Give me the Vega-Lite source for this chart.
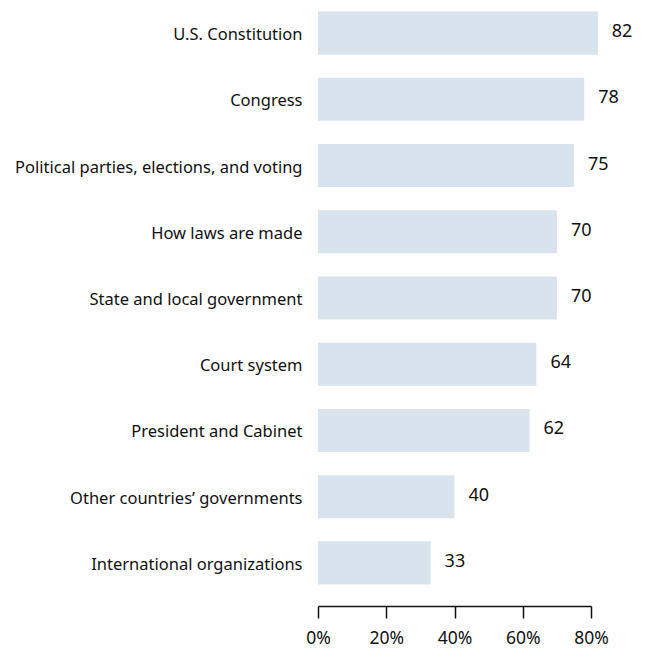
{
  "$schema": "https://vega.github.io/schema/vega-lite/v6.json",
  "autosize": "none",
  "width": 273,
  "height": 596,
  "padding": {"left": 318, "top": 0, "right": 59, "bottom": 53},
  "background": "white",
  "config": {"view": {"stroke": null}, "font": "Noto Sans"},
  "data": {"values": [
    {"topic": "U.S. Constitution", "pct": 82},
    {"topic": "Congress", "pct": 78},
    {"topic": "Political parties, elections, and voting", "pct": 75},
    {"topic": "How laws are made", "pct": 70},
    {"topic": "State and local government", "pct": 70},
    {"topic": "Court system", "pct": 64},
    {"topic": "President and Cabinet", "pct": 62},
    {"topic": "Other countries’ governments", "pct": 40},
    {"topic": "International organizations", "pct": 33}
  ]},
  "encoding": {
    "y": {"field": "topic", "type": "nominal", "sort": null,
      "scale": {"paddingInner": 0.35, "paddingOuter": 0.175},
      "axis": {"title": null, "domain": false, "ticks": false, "labelPadding": 16, "labelLimit": 320, "labelFontSize": 16.5, "labelColor": "#111", "labelFont": "Noto Sans", "labelOffset": 2}},
    "x": {"field": "pct", "type": "quantitative",
      "scale": {"domain": [0, 80], "nice": false},
      "axis": {"title": null, "values": [0, 20, 40, 60, 80], "grid": false, "offset": 10, "domainColor": "#111", "domainWidth": 1.5, "tickColor": "#111", "tickWidth": 1.5, "tickSize": 12, "labelPadding": 11, "labelFontSize": 17.5, "labelColor": "#111", "labelFlush": false, "labelExpr": "datum.value + '%'"}}
  },
  "layer": [
    {"mark": {"type": "bar", "color": "#d9e3ee", "clip": false}},
    {"mark": {"type": "text", "align": "left", "dx": 14, "dy": -1, "fontSize": 18, "color": "#111"}, "encoding": {"text": {"field": "pct", "type": "quantitative"}}}
  ]
}
